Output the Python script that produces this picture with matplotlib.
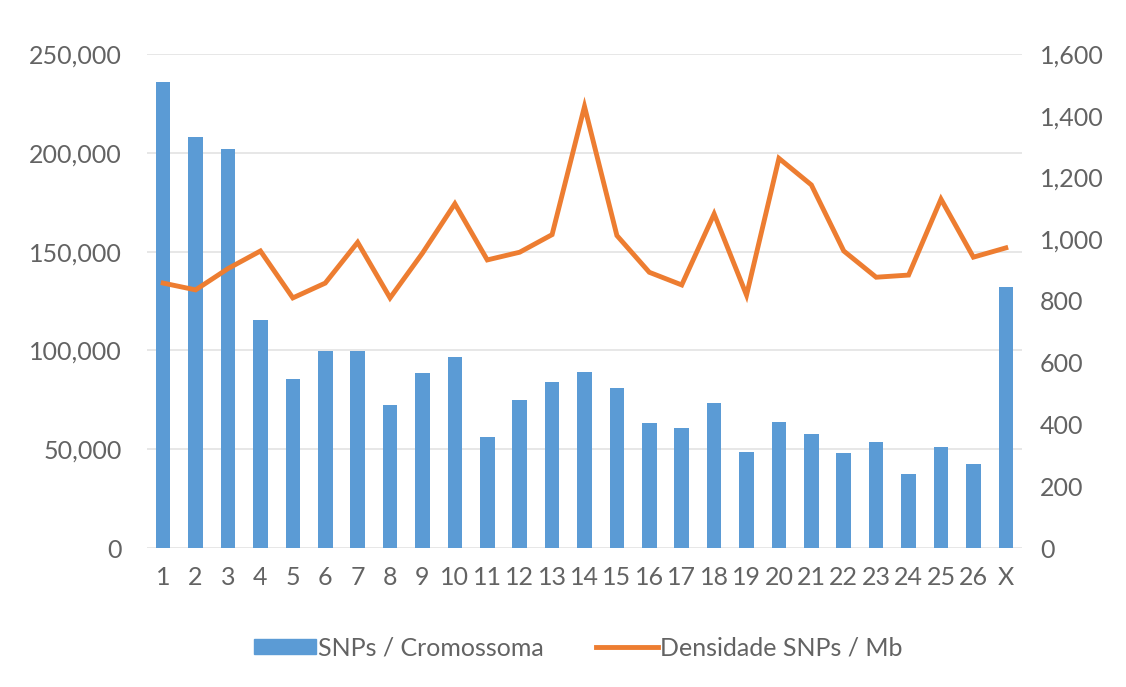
import numpy as np
import matplotlib
matplotlib.use('Agg')
import matplotlib.pyplot as plt
from matplotlib.patches import Patch
from matplotlib.lines import Line2D
from matplotlib.ticker import FuncFormatter, MultipleLocator

# chromosome labels and values
chromosomes = [str(i) for i in range(1, 27)] + ['X']
snps_per_chrom = [235800, 208000, 201900, 115400, 85500, 99700, 99700, 72400, 88600,
                  96700, 56200, 74900, 84000, 89100, 81000, 63300, 60700, 73400,
                  48600, 63800, 57700, 48100, 53600, 37400, 51100, 42500, 132100]
density_per_mb = [858, 836, 905, 962, 810, 858, 990, 810, 955,
                  1115, 933, 958, 1015, 1430, 1012, 893, 852, 1082,
                  819, 1262, 1176, 962, 877, 884, 1130, 942, 972]

bar_color = '#5B9BD5'
line_color = '#ED7D31'
text_color = '#636363'

plt.rcParams['font.family'] = ['Lato', 'DejaVu Sans']

fig = plt.figure(figsize=(11.26, 6.87), dpi=100)
ax = fig.add_axes([147/1126, 1 - 548/687, (1022 - 147)/1126, (548 - 54)/687])
x = np.arange(len(chromosomes))

ax.bar(x, snps_per_chrom, width=0.45, color=bar_color, zorder=2)
ax.set_xlim(-0.5, len(chromosomes) - 0.5)
ax.set_ylim(0, 250000)
ax.yaxis.set_major_locator(MultipleLocator(50000))
ax.yaxis.set_major_formatter(FuncFormatter(lambda v, p: f'{int(v):,}'))
ax.set_xticks(x)
ax.set_xticklabels(chromosomes)
ax.grid(axis='y', color='#E3E3E3', linewidth=1.2, zorder=0)
for s in ax.spines.values():
    s.set_visible(False)
ax.tick_params(axis='y', length=0, pad=18, labelsize=18, labelcolor=text_color)
ax.tick_params(axis='x', length=0, pad=13, labelsize=18, labelcolor=text_color)

ax2 = ax.twinx()
ax2.plot(x, density_per_mb, color=line_color, linewidth=3.5, solid_joinstyle='miter', zorder=3)
ax2.set_ylim(0, 1600)
ax2.yaxis.set_major_locator(MultipleLocator(200))
ax2.yaxis.set_major_formatter(FuncFormatter(lambda v, p: f'{int(v):,}'))
for s in ax2.spines.values():
    s.set_visible(False)
ax2.tick_params(axis='y', length=0, pad=13, labelsize=18, labelcolor=text_color)

handles = [Patch(color=bar_color), Line2D([0], [0], color=line_color, linewidth=3.5)]
fig.legend(handles, ['SNPs / Cromossoma', 'Densidade SNPs / Mb'], ncol=2,
           loc='center', bbox_to_anchor=(578/1126, 1 - 648/687), frameon=False,
           fontsize=18, labelcolor=text_color, handlelength=2.5, handleheight=0.55,
           handletextpad=0.05, columnspacing=2.1)

fig.savefig('out.png', dpi=100)
